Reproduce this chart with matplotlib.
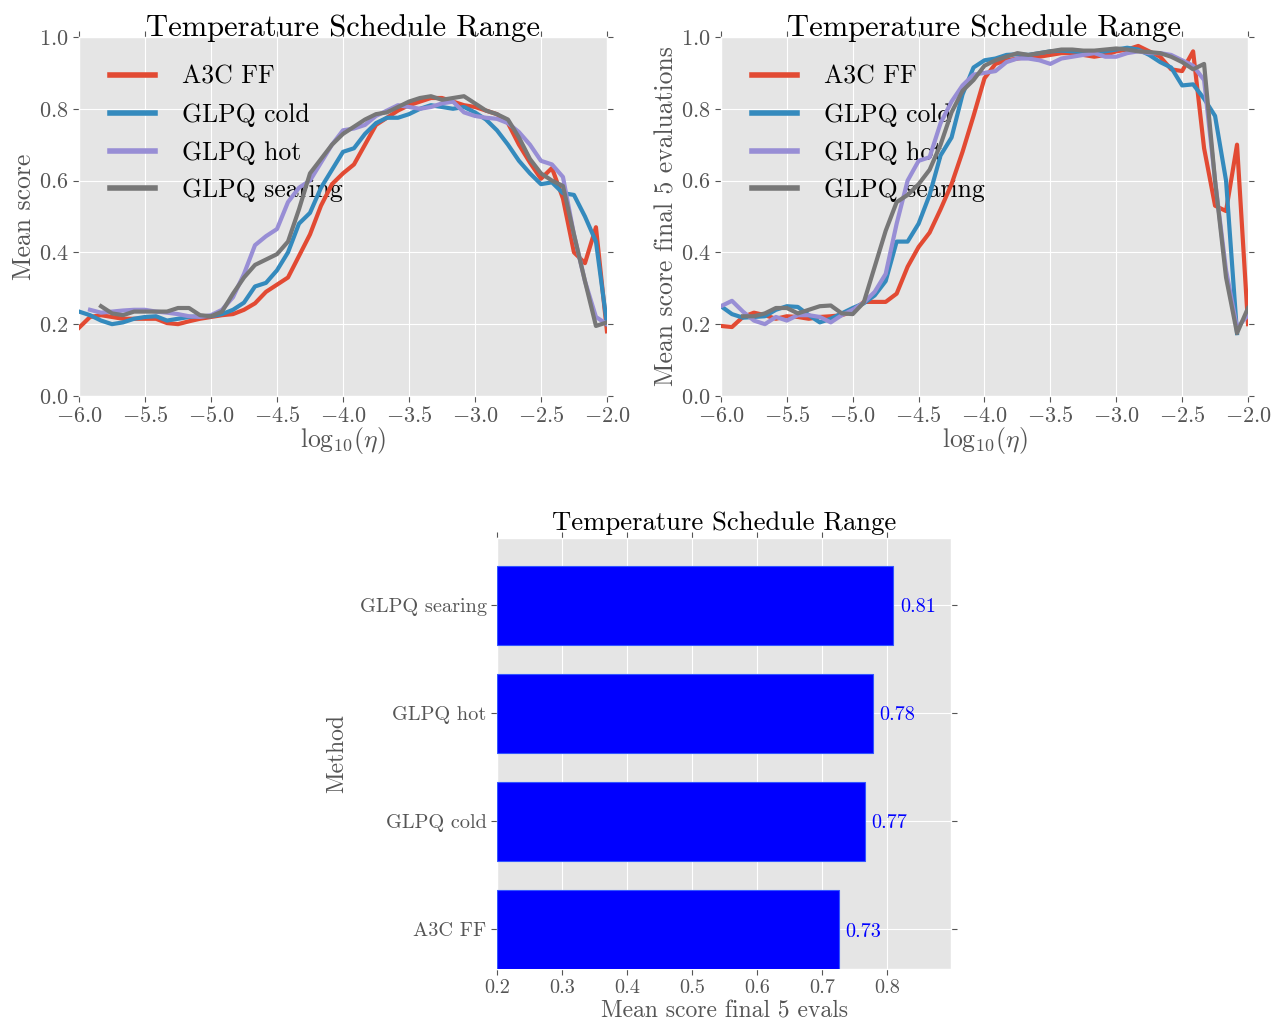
import numpy as np
import matplotlib
matplotlib.use("Agg")
import matplotlib.pyplot as plt

plt.style.use("ggplot")
plt.rcParams["font.family"] = ["serif"]
plt.rcParams["font.serif"] = ["cmr10", "DejaVu Serif"]
plt.rcParams["mathtext.fontset"] = "cm"
plt.rcParams["axes.formatter.use_mathtext"] = True
plt.rcParams["axes.unicode_minus"] = True

# ---------------- data ----------------
log_eta = np.linspace(-6.0, -2.0, 49)
methods = ["A3C FF", "GLPQ cold", "GLPQ hot", "GLPQ searing"]
colors = ["#E24A33", "#348ABD", "#988ED5", "#777777"]

nan = np.nan
mean_a3c = [0.19, 0.22, 0.225, 0.22, 0.215, 0.215, 0.215, 0.215, 0.203, 0.200, 0.208, 0.215,
            0.220, 0.225, 0.228, 0.240, 0.258, 0.29, 0.31, 0.33, 0.39, 0.45, 0.53, 0.59,
            0.62, 0.645, 0.70, 0.755, 0.775, 0.795, 0.81, 0.82, 0.83, 0.83, 0.82, 0.81,
            0.805, 0.795, 0.785, 0.76, 0.70, 0.65, 0.605, 0.635, 0.55, 0.40, 0.37, 0.47, 0.18]
mean_cold = [0.235, 0.225, 0.21, 0.20, 0.205, 0.215, 0.22, 0.222, 0.21, 0.215, 0.22, 0.222,
             0.222, 0.228, 0.24, 0.26, 0.305, 0.315, 0.35, 0.40, 0.48, 0.51, 0.58, 0.63,
             0.68, 0.69, 0.73, 0.76, 0.775, 0.775, 0.785, 0.80, 0.81, 0.805, 0.80, 0.805,
             0.79, 0.77, 0.74, 0.70, 0.655, 0.62, 0.59, 0.595, 0.565, 0.56, 0.50, 0.43, 0.20]
mean_hot = [nan, 0.24, 0.232, 0.235, 0.238, 0.24, 0.24, 0.235, 0.232, 0.228, 0.222, 0.22,
            0.225, 0.24, 0.275, 0.34, 0.42, 0.445, 0.465, 0.54, 0.58, 0.60, 0.65, 0.70,
            0.74, 0.745, 0.755, 0.78, 0.795, 0.81, 0.805, 0.80, 0.805, 0.815, 0.82, 0.79,
            0.78, 0.775, 0.772, 0.76, 0.735, 0.70, 0.655, 0.645, 0.61, 0.45, 0.32, 0.22, 0.20]
mean_searing = [nan, nan, 0.25, 0.23, 0.225, 0.235, 0.235, 0.235, 0.235, 0.245, 0.245, 0.225,
                0.222, 0.235, 0.285, 0.33, 0.365, 0.38, 0.395, 0.43, 0.52, 0.62, 0.66, 0.70,
                0.73, 0.75, 0.77, 0.785, 0.79, 0.805, 0.82, 0.83, 0.835, 0.825, 0.83, 0.835,
                0.815, 0.795, 0.785, 0.77, 0.72, 0.66, 0.62, 0.60, 0.585, 0.45, 0.32, 0.195, 0.205]

final_a3c = [0.195, 0.192, 0.22, 0.232, 0.225, 0.215, 0.222, 0.22, 0.215, 0.22, 0.222, 0.225,
             0.235, 0.262, 0.262, 0.262, 0.285, 0.36, 0.415, 0.455, 0.52, 0.59, 0.68, 0.78,
             0.885, 0.925, 0.935, 0.94, 0.945, 0.945, 0.95, 0.955, 0.955, 0.95, 0.945, 0.95,
             0.96, 0.965, 0.975, 0.96, 0.945, 0.91, 0.905, 0.96, 0.69, 0.53, 0.515, 0.70, 0.20]
final_cold = [0.25, 0.228, 0.218, 0.22, 0.222, 0.24, 0.25, 0.248, 0.225, 0.205, 0.215, 0.23,
              0.245, 0.258, 0.28, 0.32, 0.43, 0.43, 0.48, 0.56, 0.67, 0.72, 0.84, 0.915,
              0.935, 0.94, 0.95, 0.952, 0.95, 0.955, 0.96, 0.962, 0.96, 0.958, 0.958, 0.96,
              0.965, 0.97, 0.965, 0.95, 0.93, 0.915, 0.865, 0.868, 0.828, 0.78, 0.60, 0.175, nan]
final_hot = [0.25, 0.265, 0.235, 0.21, 0.20, 0.22, 0.21, 0.225, 0.225, 0.22, 0.205, 0.225,
             0.24, 0.26, 0.29, 0.34, 0.48, 0.60, 0.655, 0.665, 0.76, 0.82, 0.865, 0.895,
             0.90, 0.905, 0.93, 0.94, 0.94, 0.935, 0.925, 0.94, 0.945, 0.95, 0.955, 0.945,
             0.945, 0.955, 0.96, 0.955, 0.955, 0.95, 0.935, 0.92, 0.88, 0.60, 0.35, 0.19, 0.225]
final_searing = [nan, nan, 0.222, 0.222, 0.23, 0.245, 0.245, 0.23, 0.24, 0.25, 0.252, 0.23,
                 0.228, 0.26, 0.36, 0.46, 0.54, 0.56, 0.59, 0.63, 0.70, 0.79, 0.85, 0.88,
                 0.92, 0.935, 0.945, 0.955, 0.95, 0.955, 0.96, 0.965, 0.965, 0.962, 0.962, 0.965,
                 0.968, 0.965, 0.96, 0.958, 0.955, 0.945, 0.93, 0.91, 0.925, 0.60, 0.33, 0.175, 0.245]

bar_methods = ["A3C FF", "GLPQ cold", "GLPQ hot", "GLPQ searing"]
bar_values = [0.726, 0.766, 0.779, 0.810]

mean_series = [mean_a3c, mean_cold, mean_hot, mean_searing]
final_series = [final_a3c, final_cold, final_hot, final_searing]

# ---------------- figure ----------------
fig = plt.figure(figsize=(12.87, 10.33), dpi=100)
ax1 = fig.add_axes([0.0614, 0.6167, 0.4102, 0.3475])
ax2 = fig.add_axes([0.5602, 0.6167, 0.4095, 0.3475])
ax3 = fig.add_axes([0.3862, 0.0620, 0.3528, 0.4172])

title_fs = 22
tick_fs = 16
label_fs = 18.5
leg_fs = 18.5

for ax, series, ylabel in [(ax1, mean_series, "Mean score"),
                           (ax2, final_series, "Mean score final 5 evaluations")]:
    for name, vals, c in zip(methods, series, colors):
        ax.plot(log_eta, vals, color=c, lw=3, label=name, zorder=3)
    ax.set_xlim(-6, -2)
    ax.set_ylim(0, 1)
    ax.set_xticks(np.arange(-6, -1.99, 0.5))
    ax.set_yticks(np.arange(0, 1.01, 0.2))
    ax.xaxis.set_major_formatter(matplotlib.ticker.FormatStrFormatter("$%.1f$"))
    ax.yaxis.set_major_formatter(matplotlib.ticker.FormatStrFormatter("$%.1f$"))
    ax.set_title("Temperature Schedule Range", fontsize=title_fs, pad=1)
    ax.set_xlabel(r"$\mathrm{log}_{10}(\eta)$", fontsize=label_fs, labelpad=-1)
    ax.set_ylabel(ylabel, fontsize=label_fs, labelpad=2)
    ax.tick_params(labelsize=tick_fs, top=True, right=True, direction="out",
                   length=4, color="#555555")
    leg = ax.legend(loc="upper left", bbox_to_anchor=(0.015, 0.986), frameon=False,
                    fontsize=leg_fs, handlelength=1.75, handletextpad=1.05,
                    labelspacing=0.55)
    for h in leg.get_lines():
        h.set_linewidth(4)
    leg.set_zorder(1)

ypos = np.arange(len(bar_methods))
ax3.barh(ypos, [v - 0.2 for v in bar_values], left=0.2, height=0.73,
         color="blue", edgecolor="#3355ff", linewidth=0.8, zorder=3)
for y, v in zip(ypos, bar_values):
    ax3.text(v + 0.01, y - 0.02, "%.2f" % v, color="blue", fontsize=14.5,
             va="center", ha="left", zorder=4)
ax3.set_yticks(ypos)
ax3.set_yticklabels(bar_methods)
ax3.set_xlim(0.2, 0.899)
ax3.set_ylim(-0.365, 3.62)
ax3.set_xticks(np.arange(0.2, 0.81, 0.1))
ax3.xaxis.set_major_formatter(matplotlib.ticker.FormatStrFormatter("%.1f"))
ax3.set_title("Temperature Schedule Range", fontsize=19.2, pad=6)
ax3.set_xlabel("Mean score final 5 evals", fontsize=17, labelpad=2)
ax3.set_ylabel("Method", fontsize=17, labelpad=8)
ax3.tick_params(labelsize=14.6, top=True, right=True, direction="out",
                length=4, color="#555555")

fig.savefig("out.png", dpi=100)
